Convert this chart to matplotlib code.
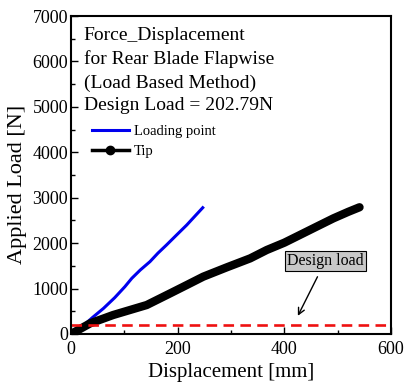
import matplotlib
matplotlib.use("Agg")
import matplotlib.pyplot as plt
from matplotlib.lines import Line2D
from matplotlib.ticker import MultipleLocator

plt.rcParams["font.family"] = ["Liberation Serif", "DejaVu Serif"]

# values
loading_x = [20, 40, 61, 82, 101, 114, 130, 148, 163, 179, 198, 217, 232, 247]
loading_y = [150, 360, 565, 800, 1041, 1226, 1410, 1592, 1780, 1959, 2180, 2399, 2590, 2780]
tip_x = [0, 36, 79, 142, 186, 217, 248, 292, 336, 367, 400, 429, 460, 492, 520, 541]
tip_y = [0, 235, 418, 638, 895, 1078, 1262, 1467, 1665, 1849, 2010, 2179, 2360, 2546, 2690, 2790]
design_load = 202.79

fig = plt.figure(figsize=(4.04, 3.88), dpi=100)
ax = fig.add_axes([71 / 404, 54 / 388, 320 / 404, 318 / 388])

ax.plot(loading_x, loading_y, color="#0000ee", lw=2.2)
ax.plot(tip_x, tip_y, color="black", lw=6, solid_capstyle="round", solid_joinstyle="round")
ax.axhline(design_load, color="#ee1111", lw=1.9, ls=(0, (4, 2.4)))

ax.annotate("Design load", xy=(423, 345), xytext=(477, 1607), fontsize=11.5,
            ha="center", va="center",
            bbox=dict(boxstyle="square,pad=0.15", fc="#c8c8c8", ec="black", lw=0.8),
            arrowprops=dict(arrowstyle="->", color="black", lw=1, shrinkA=4))

ax.set_xlim(0, 600)
ax.set_ylim(0, 7000)
ax.xaxis.set_major_locator(MultipleLocator(200))
ax.xaxis.set_minor_locator(MultipleLocator(100))
ax.yaxis.set_major_locator(MultipleLocator(1000))
ax.yaxis.set_minor_locator(MultipleLocator(500))
ax.tick_params(which="both", direction="in", labelsize=13)
ax.tick_params(axis="y", pad=2)
ax.tick_params(axis="x", pad=5)
ax.tick_params(which="major", length=5, width=1)
ax.tick_params(which="minor", length=3, width=1)
for s in ax.spines.values():
    s.set_linewidth(1.5)

ax.set_xlabel("Displacement [mm]", fontsize=15, labelpad=4)
ax.set_ylabel("Applied Load [N]", fontsize=16)
ax.yaxis.set_label_coords(-0.138, 0.47)

ax.text(0.04, 0.965, "Force_Displacement\nfor Rear Blade Flapwise\n(Load Based Method)\n"
        "Design Load = 202.79N", transform=ax.transAxes, fontsize=14, va="top",
        linespacing=1.45)

handles = [Line2D([], [], color="#0000ee", lw=2.2),
           Line2D([], [], color="black", lw=2.5, marker="o", ms=6)]
ax.legend(handles, ["Loading point", "Tip"], loc="upper left",
          bbox_to_anchor=(0.066, 0.657), frameon=False, fontsize=10.5,
          handlelength=2.5, handletextpad=0.35, labelspacing=0.42,
          borderpad=0, borderaxespad=0)

fig.savefig("out.png", dpi=100)
